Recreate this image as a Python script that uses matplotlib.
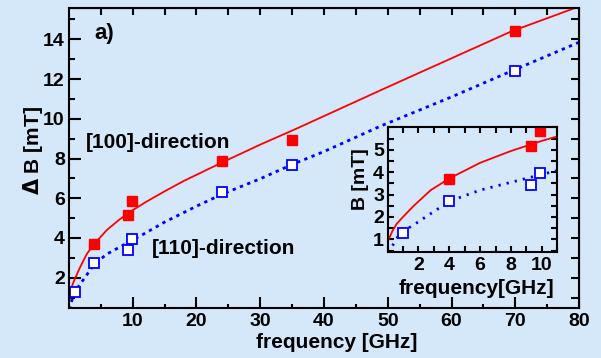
import numpy as np
import matplotlib
matplotlib.use("Agg")
import matplotlib.pyplot as plt
from matplotlib.ticker import MultipleLocator, NullFormatter

# measured points
f_100 = [4.0, 9.3, 9.9, 24.0, 35.0, 70.0]
b_100 = [3.7, 5.15, 5.85, 7.87, 8.95, 14.4]
f_110 = [1.0, 4.0, 9.3, 9.9, 24.0, 35.0, 70.0]
b_110 = [1.3, 2.72, 3.42, 3.95, 6.32, 7.68, 12.4]

# fit curves
fit_f_100 = [0.05, 0.3, 0.6, 1.0, 1.7, 2.8, 4.0, 6.0, 8.0, 10.0, 12.0, 15, 18, 24, 30, 36, 50, 69.4, 80]
fit_b_100 = [0.95, 1.35, 1.7, 2.0, 2.5, 3.2, 3.72, 4.42, 4.95, 5.4, 5.8, 6.35, 6.87, 7.8, 8.7, 9.55, 11.6, 14.4, 15.65]
fit_f_110 = [0.05, 0.8, 1.7, 2.8, 4.0, 6.0, 8.0, 10.0, 12.0, 15, 20, 24, 30, 35, 40, 49, 60, 69.4, 80]
fit_b_110 = [0.4, 1.27, 1.65, 2.15, 2.7, 3.2, 3.55, 3.9, 4.25, 4.8, 5.6, 6.2, 6.98, 7.7, 8.35, 9.65, 11.1, 12.4, 13.85]

BG = "#d4e8fa"
RED = "#ff0000"
BLUE = "#0000ff"

plt.rcParams["font.family"] = ["Liberation Sans", "DejaVu Sans"]
plt.rcParams["font.weight"] = "bold"


def square(open_marker=False):
    if open_marker:
        return dict(marker="s", ms=7.5, mfc="white", mec=BLUE, mew=1.3, ls="none")
    return dict(marker="s", ms=7.5, mfc=RED, mec=RED, ls="none")


def main():
    fig = plt.figure(figsize=(6.01, 3.58), dpi=100, facecolor=BG)

    # main panel
    ax = fig.add_axes([0.1148, 0.141, 0.8486, 0.838])
    ax.set_facecolor(BG)
    ax.plot(fit_f_100, fit_b_100, color=RED, lw=1.3)
    ax.plot(fit_f_110, fit_b_110, color=BLUE, lw=2.0, ls=(0, (1.2, 1.6)))
    ax.plot(f_100, b_100, **square())
    ax.plot(f_110, b_110, **square(True))
    ax.set_xlim(0, 80)
    ax.set_ylim(0.5, 15.6)

    ax.xaxis.set_minor_locator(MultipleLocator(5))
    ax.yaxis.set_minor_locator(MultipleLocator(1))
    ax.set_xticks(np.arange(10, 81, 10))
    ax.set_yticks(np.arange(2, 15, 2))
    ax.tick_params(which="both", direction="in", width=1.5, labelsize=14, top=False, right=False)
    ax.tick_params(axis="x", which="major", length=7.9, pad=4)
    ax.tick_params(axis="x", which="minor", length=3.2)
    ax.tick_params(axis="y", which="major", length=8.6, pad=3)
    ax.tick_params(axis="y", which="minor", length=4.3)
    for s in ax.spines.values():
        s.set_linewidth(1.5)

    top = ax.secondary_xaxis("top")
    top.set_xticks(np.arange(5, 80, 5))
    top.xaxis.set_major_formatter(NullFormatter())
    top.tick_params(direction="in", length=4.8, width=1.5)
    right = ax.secondary_yaxis("right")
    right.set_yticks(np.arange(1, 16, 1))
    right.yaxis.set_major_formatter(NullFormatter())
    right.tick_params(direction="in", length=5.5, width=1.5)

    ax.set_xlabel("frequency [GHz]", fontsize=15, fontweight="bold")
    ax.xaxis.set_label_coords(0.525, -0.085)
    ax.set_ylabel(r"$\Delta$ B [mT]", fontsize=15, fontweight="bold")
    ax.yaxis.set_label_coords(-0.047, 0.525)

    ax.text(0.049, 0.915, "a)", transform=ax.transAxes, fontsize=16,
            fontweight="bold", va="center", ha="left")
    ax.text(0.033, 0.55, "[100]-direction", transform=ax.transAxes, fontsize=15,
            fontweight="bold", va="center", ha="left")
    ax.text(0.162, 0.198, "[110]-direction", transform=ax.transAxes, fontsize=15,
            fontweight="bold", va="center", ha="left")

    # inset
    ins = fig.add_axes([0.6448, 0.297, 0.2825, 0.347])
    ins.set_facecolor(BG)
    ins.plot(fit_f_100, fit_b_100, color=RED, lw=1.3)
    ins.plot(fit_f_110, fit_b_110, color=BLUE, lw=2.0, ls=(0, (0.8, 2.2)))
    ins.plot(f_100, b_100, **square())
    ins.plot(f_110, b_110, **square(True))
    ins.set_xlim(0, 11)
    ins.set_ylim(0.45, 6.0)
    ins.set_xticks([2, 4, 6, 8, 10])
    ins.xaxis.set_minor_locator(MultipleLocator(1))
    ins.set_yticks([1, 2, 3, 4, 5])
    ins.yaxis.set_minor_locator(MultipleLocator(0.5))
    ins.tick_params(which="both", direction="in", width=1.5, length=4.0,
                    top=True, right=True, labelsize=14)
    ins.tick_params(axis="x", pad=4)
    ins.tick_params(axis="y", pad=2.5)
    for s in ins.spines.values():
        s.set_linewidth(1.5)
    ins.set_xlabel("frequency[GHz]", fontsize=15, fontweight="bold")
    ins.xaxis.set_label_coords(0.524, -0.22)
    ins.set_ylabel("B [mT]", fontsize=14, fontweight="bold")
    ins.yaxis.set_label_coords(-0.11, 0.58)

    fig.savefig("out.png", dpi=100, facecolor=BG)


if __name__ == "__main__":
    main()
